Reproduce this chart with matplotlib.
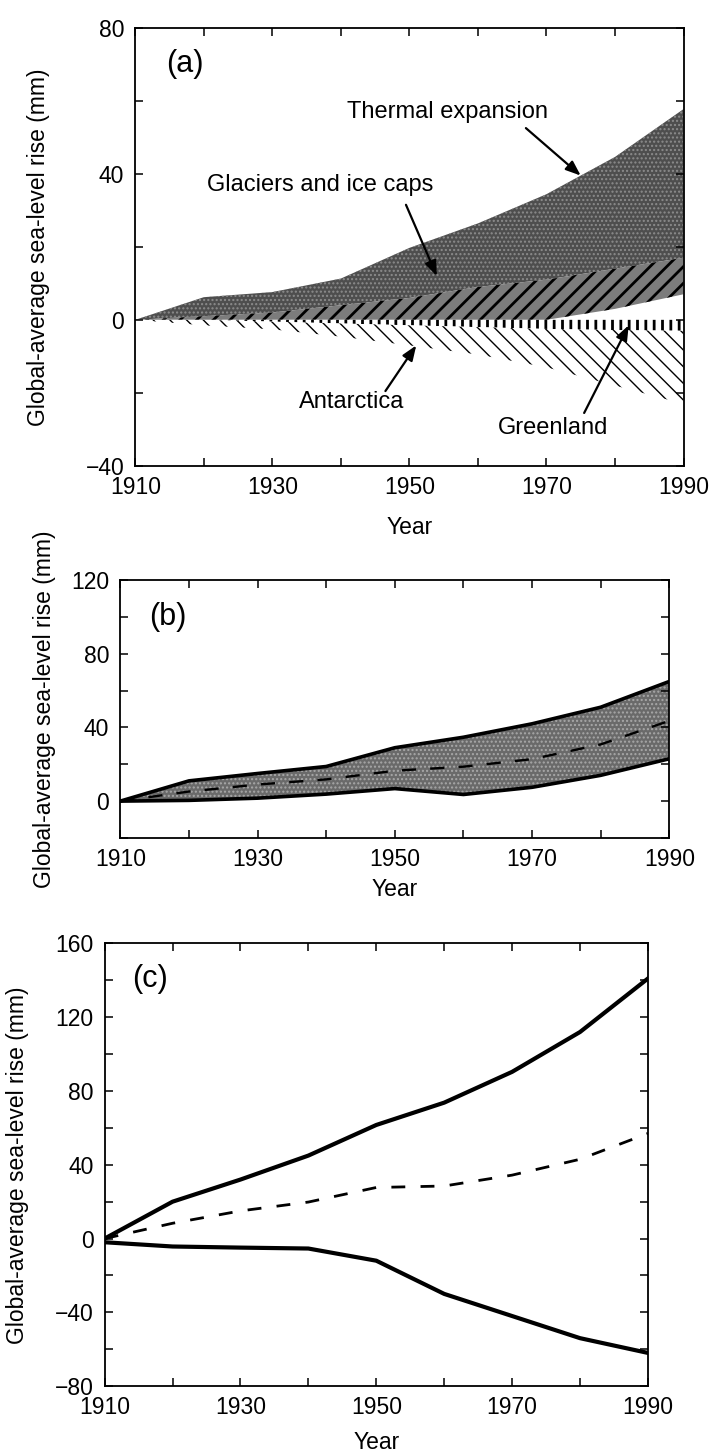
import matplotlib
matplotlib.use("Agg")
import matplotlib.pyplot as plt
from matplotlib.ticker import MultipleLocator, FixedLocator

plt.rcParams['font.family'] = ['Liberation Sans', 'DejaVu Sans']

# ---------------- data ----------------
years = [1910, 1920, 1930, 1940, 1950, 1960, 1970, 1980, 1990]

# panel (a): stacked contributions (cumulative boundaries, mm)
total_a = [0, 6.2, 7.6, 11.3, 19.7, 26.4, 34.4, 44.6, 57.7]        # top of thermal expansion
glacier_top = [0, 1, 2, 4, 6, 9, 11, 14, 17]                        # top of glaciers & ice caps
glacier_base = [0, 0, 0, 0, 0, 0, 0, 3, 7]                          # base of glaciers band
greenland_bottom = [0, 0, -0.5, -1, -1.5, -2, -2.5, -2.8, -3]
antarctica_bottom = [0, -1.5, -2.6, -4.6, -7, -9.5, -13, -18, -23]

# panel (b): range and central estimate (mm)
upper_b = [0, 11, 15, 18.8, 29, 34.7, 42, 51, 65]
lower_b = [0, 0.4, 1.6, 3.8, 6.8, 3.6, 7.5, 14, 23]
mid_b = [0, 5.2, 9, 11.8, 16.5, 18.7, 22.8, 30.8, 43.6]

# panel (c): range and central estimate (mm)
upper_c = [0, 20, 32, 45, 61.6, 73.7, 90.4, 112, 141]
lower_c = [-2, -4.3, -4.9, -5.4, -12, -30, -42, -54, -62]
mid_c = [0, 8.3, 15, 19.8, 27.7, 28.5, 34.4, 43, 57]

year_ticklabels = ['1910', '1930', '1950', '1970', '1990']
ylab = 'Global-average sea-level rise (mm)'

FS = 16.5
FS_ANN = 17
FS_PANEL = 22

fig = plt.figure(figsize=(7.12, 14.56), dpi=100)


def style_axes(ax, ylim, ymajor, xlabel_y, ylabel_x):
    ax.set_xlim(1910, 1990)
    ax.set_ylim(*ylim)
    ax.xaxis.set_major_locator(FixedLocator([1910, 1930, 1950, 1970, 1990]))
    ax.set_xticklabels(year_ticklabels)
    ax.xaxis.set_minor_locator(MultipleLocator(10))
    ax.yaxis.set_major_locator(MultipleLocator(ymajor))
    ax.yaxis.set_minor_locator(MultipleLocator(20))
    ax.tick_params(which='both', direction='in', top=True, right=True,
                   labelsize=FS, width=1.1, color='black')
    ax.tick_params(which='major', length=6)
    ax.tick_params(which='minor', length=6)
    ax.tick_params(axis='x', pad=7)
    ax.tick_params(axis='y', pad=8)
    for s in ax.spines.values():
        s.set_linewidth(1.3)
    ax.set_xlabel('Year', fontsize=FS)
    ax.set_ylabel(ylab, fontsize=FS)
    ax.xaxis.set_label_coords(0.5, xlabel_y)
    ax.xaxis.label.set_va('center')
    ax.yaxis.set_label_coords(ylabel_x, 0.5)


# ---------------- panel (a) ----------------
ax1 = fig.add_axes([0.190, 0.680, 0.770, 0.301])
# thermal expansion (stippled dark grey)
ax1.fill_between(years, glacier_top, total_a, facecolor='#4e4e4e',
                 edgecolor='#8c8c8c', hatch='....', linewidth=0)
with plt.rc_context({'hatch.linewidth': 2.0}):
    ax1.fill_between(years, glacier_base, glacier_top, facecolor='#7c7c7c',
                     edgecolor='black', hatch='//', linewidth=0)
with plt.rc_context({'hatch.linewidth': 2.0}):
    ax1.fill_between(years, greenland_bottom, 0, facecolor='white',
                     edgecolor='black', hatch='||', linewidth=0)
with plt.rc_context({'hatch.linewidth': 1.0}):
    ax1.fill_between(years, antarctica_bottom, greenland_bottom, facecolor='white',
                     edgecolor='black', hatch='\\\\', linewidth=0)
style_axes(ax1, (-40, 80), 40, -0.14, -0.155)

arrow_kw = dict(arrowstyle='-|>,head_length=0.9,head_width=0.35', lw=1.6,
                color='black', shrinkA=0, shrinkB=0)
ax1.text(0.09, 0.918, '(a)', transform=ax1.transAxes, fontsize=FS_PANEL,
         ha='center', va='center')
ax1.text(1955.5, 57, 'Thermal expansion', fontsize=FS_ANN, ha='center', va='center')
ax1.annotate('', xy=(1975, 39.5), xytext=(1967, 52.5), arrowprops=arrow_kw)
ax1.text(1937, 37, 'Glaciers and ice caps', fontsize=FS_ANN, ha='center', va='center')
ax1.annotate('', xy=(1954, 12), xytext=(1949.5, 31.5), arrowprops=arrow_kw)
ax1.text(1941.5, -22.5, 'Antarctica', fontsize=FS_ANN, ha='center', va='center')
ax1.annotate('', xy=(1951, -7), xytext=(1946.5, -19.5), arrowprops=arrow_kw)
ax1.text(1971, -29.5, 'Greenland', fontsize=FS_ANN, ha='center', va='center')
ax1.annotate('', xy=(1982, -1.5), xytext=(1975.5, -25.5), arrowprops=arrow_kw)

# ---------------- panel (b) ----------------
ax2 = fig.add_axes([0.169, 0.4245, 0.771, 0.177])
ax2.fill_between(years, lower_b, upper_b, facecolor='#6a6a6a',
                 edgecolor='#a8a8a8', hatch='....', linewidth=0)
ax2.plot(years, upper_b, color='black', lw=2.6, solid_joinstyle='miter')
ax2.plot(years, lower_b, color='black', lw=2.6, solid_joinstyle='miter')
ax2.plot(years, mid_b, color='black', lw=1.7, dashes=(6, 6))
style_axes(ax2, (-20, 120), 40, -0.2, -0.118)
ax2.text(0.086, 0.857, '(b)', transform=ax2.transAxes, fontsize=FS_PANEL,
         ha='center', va='center')

# ---------------- panel (c) ----------------
ax3 = fig.add_axes([0.147, 0.048, 0.763, 0.304])
ax3.plot(years, upper_c, color='black', lw=3.0)
ax3.plot(years, lower_c, color='black', lw=3.0)
ax3.plot(years, mid_c, color='black', lw=2.0, dashes=(5, 5.5))
style_axes(ax3, (-80, 160), 40, -0.128, -0.14)
ax3.text(0.083, 0.92, '(c)', transform=ax3.transAxes, fontsize=FS_PANEL,
         ha='center', va='center')

fig.savefig('out.png', dpi=100)
